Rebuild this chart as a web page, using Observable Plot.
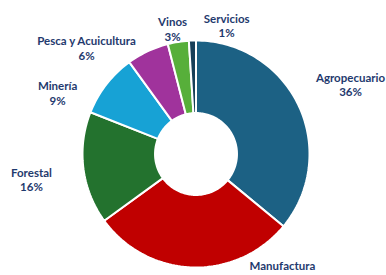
<!DOCTYPE html>
<html>
<head>
<meta charset="utf-8">
<script src="https://cdn.jsdelivr.net/npm/d3@7"></script>
<script src="https://cdn.jsdelivr.net/npm/@observablehq/plot@0.6"></script>
<style>
  body { margin: 0; background: #fff; }
  #chart svg { display: block; }
</style>
</head>
<body>
<div id="chart"></div>
<script>
// ---- data ----
const categories = ["Agropecuario", "Manufactura", "Forestal", "Minería", "Pesca y Acuicultura", "Vinos", "Servicios"];
const shares = [36, 29, 16, 9, 6, 3, 1];
const colors = ["#1C6184", "#C00000", "#23722E", "#17A2D5", "#A0339C", "#57AF3A", "#173F58"];

// ---- label layout (polar: angle shift from slice middle in degrees, radius in outer radii) ----
const labelShift = [1.0, -39.6, -1.6, -14.0, -20.7, -1.6, 15.2];
const labelRadius = [1.4925, 1.243, 1.467, 1.333, 1.343, 1.121, 1.164];
// the value line of the bottom label falls below the picture's edge in the original
const labelShowsValue = [true, false, true, true, true, true, true];

// ---- geometry ----
const R_OUT = 1, R_IN = 0.361;
const total = d3.sum(shares);
const toRad = Math.PI / 180;
const pt = (deg, r) => [r * Math.sin(deg * toRad), r * Math.cos(deg * toRad)];

let acc = 0;
const slices = categories.map((c, i) => {
  const a0 = acc / total * 360;
  acc += shares[i];
  const a1 = acc / total * 360;
  return {cat: c, share: shares[i], a0, a1, mid: (a0 + a1) / 2, i};
});

const ring = [];
for (const s of slices) {
  const n = Math.max(4, Math.ceil((s.a1 - s.a0) / 1.5));
  const pts = [];
  for (let k = 0; k <= n; k++) pts.push(pt(s.a0 + (s.a1 - s.a0) * k / n, R_OUT));
  for (let k = n; k >= 0; k--) pts.push(pt(s.a0 + (s.a1 - s.a0) * k / n, R_IN));
  pts.push(pts[0]);
  for (const [x, y] of pts) ring.push({cat: s.cat, x, y});
}

const labels = slices.map(s => {
  const [x, y] = pt(s.mid + labelShift[s.i], labelRadius[s.i]);
  return {x, y, text: labelShowsValue[s.i] ? `${s.cat}\n${s.share}%` : s.cat};
});

const chart = Plot.plot({
  width: 386,
  height: 275,
  margin: 0,
  x: {domain: [-1.7225, 1.6784], axis: null},
  y: {domain: [-1.0705, 1.3524], axis: null},
  color: {domain: categories, range: colors},
  style: {background: "#fff"},
  marks: [
    Plot.line(ring, {x: "x", y: "y", z: "cat", fill: "cat", stroke: "#fff", strokeWidth: 2, curve: "linear-closed"}),
    Plot.text(labels, {
      x: "x", y: "y", text: "text",
      fontFamily: "Lato", fontWeight: "bold", fontSize: 11.5,
      lineHeight: 1.25, lineAnchor: "middle", fill: "#1F3A6E"
    })
  ]
});
document.getElementById("chart").append(chart);
</script>
</body>
</html>
